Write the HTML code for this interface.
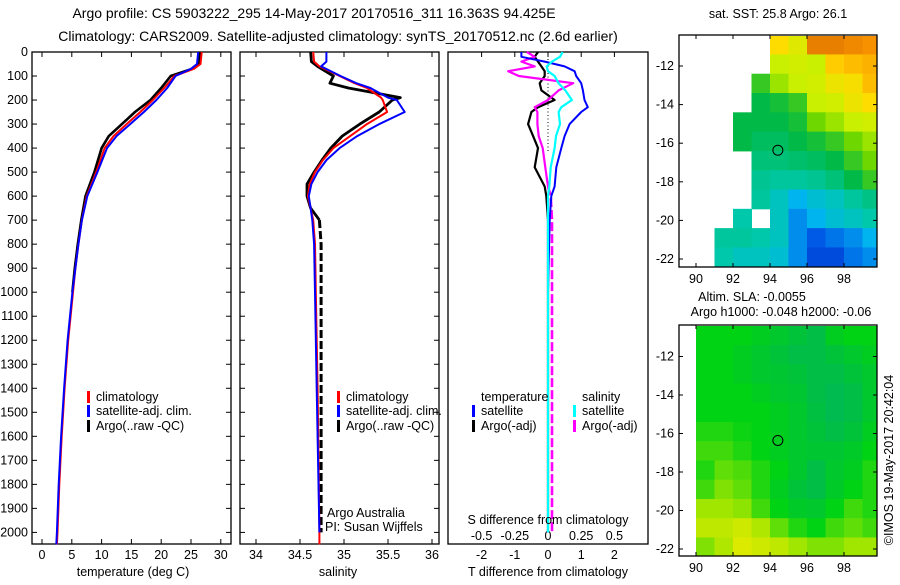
<!DOCTYPE html>
<html><head><meta charset="utf-8">
<style>
html,body{margin:0;padding:0;background:#fff;}
body{width:900px;height:580px;overflow:hidden;font-family:"Liberation Sans",sans-serif;}
svg text{font-family:"Liberation Sans",sans-serif;font-size:12.5px;fill:#000;}
svg text.title{font-size:14px;}
</style></head>
<body>
<svg id="fig" width="900" height="580" xmlns="http://www.w3.org/2000/svg">
<text class="title" x="314" y="18" text-anchor="middle">Argo profile: CS 5903222_295 14-May-2017 20170516_311 16.363S 94.425E</text>
<text class="title" x="338" y="41" text-anchor="middle">Climatology: CARS2009. Satellite-adjusted climatology: synTS_20170512.nc (2.6d earlier)</text>
</svg>
<script>
// ---------- data ----------
const depthT = [0,50,70,100,150,200,250,300,350,400,500,600,700,800,900,1000,1200,1400,1600,1800,2000,2050];
const tempClim = [26.8,26.6,25.5,22.2,20.5,18.6,16.5,14.2,12.0,10.5,9.1,7.5,6.7,6.1,5.6,5.2,4.4,3.8,3.3,2.9,2.6,2.5];
const tempSat = [26.2,26.0,25.0,22.4,21.0,19.2,17.1,14.8,12.5,10.9,9.3,7.6,6.7,6.1,5.6,5.1,4.3,3.7,3.2,2.8,2.5,2.4];
const tempArgo = [26.5,26.4,25.2,21.6,20.0,18.2,15.6,13.4,11.2,10.0,8.8,7.3,6.6,6.0,5.5,5.1];
const depthS = [0,40,60,100,130,150,190,200,250,300,350,400,450,500,550,600,650,700,800,1000,1400,2000,2050];
const salClim = [34.65,34.66,34.72,34.95,35.12,35.26,35.42,35.44,35.49,35.26,35.07,34.88,34.76,34.67,34.61,34.59,34.62,34.65,34.67,34.68,34.70,34.72,34.72];
const salSat = [34.8,34.8,34.74,34.96,35.14,35.3,35.5,35.6,35.69,35.4,35.15,34.95,34.8,34.7,34.63,34.6,34.62,34.64,34.66,34.67,34.69,34.72,34.72];
const salArgo = [34.62,34.63,34.7,34.88,34.84,35.05,35.64,35.55,35.4,35.18,34.98,34.85,34.75,34.66,34.58,34.58,34.62,34.72,34.74,34.74,34.74,34.74];
const depthD = [0,20,40,60,80,100,130,160,200,230,250,300,350,400,480,560,600,700,1000,1500,2000];
const tDiffSat = [-0.8,-0.8,-0.1,0.5,0.8,0.85,1.0,1.05,1.1,1.2,1.0,0.65,0.5,0.4,0.25,0.2,0.1,0.05,0.0,0.0,0.0];
const sDiffSat = [0.11,0.09,0.03,-0.01,0.0,0.05,0.08,0.13,0.18,0.1,0.08,0.09,0.06,0.05,0.02,0.01,0.0,0.0,0.0,0.0,0.0];
const tDiffArgo = [-0.3,-0.4,-0.3,-0.2,-0.1,-0.1,-0.25,-0.2,0.2,-0.3,-0.5,-0.6,-0.45,-0.3,-0.4,-0.1,-0.05,0.0,0.0,0.0,0.0];
const sDiffArgo = [-0.16,-0.1,-0.2,-0.1,-0.3,-0.22,0.19,0.08,0.0,-0.1,-0.08,-0.08,-0.07,-0.04,-0.02,0.0,0.02,0.03,0.03,0.03,0.03];
const tempTicks = [0,5,10,15,20,25,30];
const salTicks = [34,34.5,35,35.5,36];
const tDiffTicks = [-2,-1,0,1,2];
const sDiffTicks = [-0.5,-0.25,0,0.25,0.5];
const depthTicks = [0,100,200,300,400,500,600,700,800,900,1000,1100,1200,1300,1400,1500,1600,1700,1800,1900,2000];
const lonTicks = [90,92,94,96,98];
const latTicks = [-12,-14,-16,-18,-20,-22];
const sstLon0 = 89; const sstLat0 = -10.4;
const sstGrid = [
 [null,null,null,null,null,0.72,0.65,0.9,0.9,0.88,0.86],
 [null,null,null,null,null,0.6,0.62,0.6,0.75,0.78,0.8],
 [null,null,null,null,0.45,0.55,0.6,0.62,0.68,0.7,0.78],
 [null,null,null,null,0.4,0.42,0.45,0.6,0.62,0.68,0.72],
 [null,null,null,0.4,0.4,0.4,0.42,0.5,0.55,0.6,0.62],
 [null,null,null,0.4,0.38,0.38,0.4,0.42,0.45,0.5,0.55],
 [null,null,null,null,0.36,0.36,0.37,0.38,0.4,0.45,0.5],
 [null,null,null,null,0.34,0.33,0.33,0.34,0.36,0.4,0.45],
 [null,null,null,null,0.33,0.3,0.25,0.28,0.3,0.33,0.35],
 [null,null,null,0.32,null,0.3,0.22,0.25,0.28,0.3,0.32],
 [null,null,0.33,0.33,0.32,0.3,0.22,0.18,0.2,0.22,0.25],
 [null,null,0.32,0.3,0.3,0.28,0.22,0.15,0.15,0.2,0.22]
];
const slaLon0 = 90; const slaLat0 = -10.4;
const slaGrid = [
 [0.5,0.5,0.5,0.45,0.4,0.35,0.3,0.45,0.5,0.5],
 [0.5,0.5,0.45,0.4,0.35,0.3,0.3,0.35,0.4,0.45],
 [0.5,0.5,0.45,0.4,0.38,0.35,0.3,0.3,0.35,0.4],
 [0.5,0.5,0.5,0.45,0.4,0.38,0.3,0.25,0.3,0.4],
 [0.5,0.5,0.5,0.5,0.45,0.4,0.32,0.25,0.3,0.4],
 [0.55,0.55,0.52,0.5,0.45,0.4,0.35,0.3,0.35,0.45],
 [0.6,0.6,0.55,0.5,0.45,0.4,0.38,0.38,0.42,0.5],
 [0.55,0.65,0.62,0.55,0.5,0.4,0.3,0.4,0.45,0.55],
 [0.6,0.7,0.65,0.55,0.45,0.35,0.3,0.42,0.5,0.55],
 [0.75,0.75,0.72,0.6,0.5,0.42,0.4,0.5,0.6,0.55],
 [0.85,0.85,0.9,0.8,0.65,0.55,0.5,0.6,0.65,0.6],
 [0.7,0.8,0.95,0.9,0.85,0.75,0.7,0.7,0.75,0.75]
];
const argoLon = 94.425; const argoLat = -16.363;

// ---------- helpers ----------
const NS = 'http://www.w3.org/2000/svg';
const svg = document.getElementById('fig');
function mk(tag, attrs, parent){const e=document.createElementNS(NS,tag);for(const k in attrs)e.setAttribute(k,attrs[k]);(parent||svg).appendChild(e);return e;}
function txt(x,y,s,anchor,parent){const t=mk('text',{x:x,y:y,'text-anchor':anchor||'start'},parent);t.textContent=s;return t;}
const yD = d => 52 + 0.2402*d;
const xT = t => 42 + 5.96*t;
const xS = s => 256 + 88*(s-34);
const xTD = t => 548 + 33.2*t;
const xSD = s => 548 + 132.8*s;
function line(xs, ds, fx, color, w, name, dash){
  let p='';
  for(let i=0;i<xs.length;i++) p += (i?'L':'M') + fx(xs[i]).toFixed(1)+','+yD(ds[i]).toFixed(1);
  const e = mk('path',{d:p,fill:'none',stroke:color,'stroke-width':w,'stroke-linejoin':'round'});
  if(dash) e.setAttribute('stroke-dasharray',dash);
  
  
  return e;
}
function frame(x0,y0,x1,y1,name){
  const r = mk('rect',{x:x0,y:y0,width:x1-x0,height:y1-y0,fill:'none',stroke:'#000','stroke-width':1.3});
  
  
}
function legendMark(x,y,color){mk('rect',{x:x,y:y-10,width:3,height:12,fill:color});}

// ---------- panel 1: temperature ----------
frame(32,52,231,544,'temperature-panel-frame');
depthTicks.forEach(d=>{
  const t = txt(28,yD(d)+4,String(d),'end');
  
  
  mk('line',{x1:32,x2:37,y1:yD(d),y2:yD(d),stroke:'#000'});
  mk('line',{x1:231,x2:226,y1:yD(d),y2:yD(d),stroke:'#000'});
});
tempTicks.forEach(t=>{
  const e = txt(xT(t),559,String(t),'middle');
  
  
  mk('line',{x1:xT(t),x2:xT(t),y1:544,y2:539,stroke:'#000'});
  mk('line',{x1:xT(t),x2:xT(t),y1:52,y2:57,stroke:'#000'});
});
txt(133,576,'temperature (deg C)','middle');
line(tempArgo, depthT.slice(0,tempArgo.length), xT, '#000', 2.6, 'temperature-argo-line');
line(tempClim, depthT, xT, '#f00', 2, 'temperature-climatology-line');
line(tempSat, depthT, xT, '#00f', 2, 'temperature-satellite-line');
legendMark(87,401,'#f00'); txt(96,401,'climatology');
legendMark(87,415,'#00f'); txt(96,415,'satellite-adj. clim.');
legendMark(87,430,'#000'); txt(96,430,'Argo(..raw -QC)');

// ---------- panel 2: salinity ----------
frame(240,52,439,544,'salinity-panel-frame');
depthTicks.forEach(d=>{
  mk('line',{x1:240,x2:245,y1:yD(d),y2:yD(d),stroke:'#000'});
  mk('line',{x1:439,x2:434,y1:yD(d),y2:yD(d),stroke:'#000'});
});
salTicks.forEach(s=>{
  const e = txt(xS(s),559,String(s),'middle');
  
  
  mk('line',{x1:xS(s),x2:xS(s),y1:544,y2:539,stroke:'#000'});
  mk('line',{x1:xS(s),x2:xS(s),y1:52,y2:57,stroke:'#000'});
});
txt(338,576,'salinity','middle');
line(salArgo.slice(0,18), depthS.slice(0,18), xS, '#000', 2.8, 'salinity-argo-line');
line(salArgo.slice(17), depthS.slice(17,22), xS, '#000', 3, 'salinity-argo-deep-line','8,3');
line(salClim, depthS, xS, '#f00', 2, 'salinity-climatology-line');
line(salSat.slice(0,22), depthS.slice(0,22), xS, '#00f', 2, 'salinity-satellite-line');
legendMark(337,401,'#f00'); txt(346,401,'climatology');
legendMark(337,415,'#00f'); txt(346,415,'satellite-adj. clim.');
legendMark(337,430,'#000'); txt(346,430,'Argo(..raw -QC)');
txt(327,517,'Argo Australia');
txt(325,531,'PI: Susan Wijffels');

// ---------- panel 3: differences ----------
frame(448,52,648,544,'difference-panel-frame');
tDiffTicks.forEach(t=>{
  mk('line',{x1:xTD(t),x2:xTD(t),y1:52,y2:57,stroke:'#000'});
  const e = txt(xTD(t),559,String(t),'middle');
  
  
});
sDiffTicks.forEach(s=>{
  const e = txt(xSD(s),540,String(s),'middle');
  
  
});
mk('line',{x1:548,x2:548,y1:yD(0),y2:yD(420),stroke:'#000','stroke-dasharray':'1,2.5'});
line(tDiffArgo, depthD, xTD, '#000', 2.2, 't-difference-argo-line');
line(sDiffArgo.slice(0,16), depthD.slice(0,16), xSD, '#f0f', 2.2, 's-difference-argo-line');
line(sDiffArgo.slice(15), depthD.slice(15), xSD, '#f0f', 2.6, 's-difference-argo-deep-line','9,3');
line(tDiffSat, depthD, xTD, '#00f', 2, 't-difference-satellite-line');
line(sDiffSat, depthD, xSD, '#0ff', 2.2, 's-difference-satellite-line');
txt(481,401,'temperature'); txt(582,401,'salinity');
legendMark(472,415,'#00f'); txt(481,415,'satellite');
legendMark(472,430,'#000'); txt(481,430,'Argo(-adj)');
legendMark(573,415,'#0ff'); txt(582,415,'satellite');
legendMark(573,430,'#f0f'); txt(582,430,'Argo(-adj)');
txt(548,524,'S difference from climatology','middle');
txt(548,576,'T difference from climatology','middle');

// ---------- maps ----------
const mxLon = lon => 696 + 18.5*(lon-90);
const myLat1 = lat => 66 + 19.3*(-12-lat);
const myLat2 = lat => 356.5 + 19.25*(-12-lat);
function lerpC(stops, v){
  v=Math.max(0,Math.min(1,v));
  for(let i=1;i<stops.length;i++){
    if(v<=stops[i][0]){const a=stops[i-1],b=stops[i],f=(v-a[0])/(b[0]-a[0]);
      return 'rgb('+[1,2,3].map(k=>Math.round(a[k]+(b[k]-a[k])*f)).join(',')+')';}
  }
  const l=stops[stops.length-1];return 'rgb('+l[1]+','+l[2]+','+l[3]+')';
}
const sstStops=[[0,0,0,170],[0.18,0,90,230],[0.25,0,180,240],[0.32,0,200,170],[0.4,0,185,70],[0.5,110,215,0],[0.6,200,240,0],[0.72,255,220,0],[0.85,250,150,0],[1,200,80,0]];
const slaStops=[[0,0,175,130],[0.3,0,190,70],[0.5,0,210,20],[0.75,160,230,0],[1,235,235,0]];
function drawMap(grid, lon0, lat0, stops, fy, x0, y0, x1, y1, name){
  const g = mk('g',{});
  
  
  grid.forEach((row,r)=>row.forEach((v,c)=>{
    if(v===null) return;
    const xa=Math.max(x0,mxLon(lon0+c)), xb=Math.min(x1,mxLon(lon0+c+1));
    const ya=Math.max(y0,fy(lat0-r)), yb=Math.min(y1,fy(lat0-r-1));
    const cell = mk('rect',{x:xa,y:ya,width:xb-xa+0.5,height:yb-ya+0.5,fill:lerpC(stops,v)},g);
    
    
  }));
}
// SST map
drawMap(sstGrid, sstLon0, sstLat0, sstStops, myLat1, 680, 36, 876, 266, 'sst-map');
frame(679,35,877,267,'sst-map-frame');
mk('circle',{cx:mxLon(argoLon),cy:myLat1(argoLat),r:5,fill:'none',stroke:'#000'});
// SLA map
drawMap(slaGrid, slaLon0, slaLat0, slaStops, myLat2, 680, 326, 876, 555, 'sla-map');
frame(679,325,877,556,'sla-map-frame');
mk('circle',{cx:mxLon(argoLon),cy:myLat2(argoLat),r:5,fill:'none',stroke:'#000'});
[[myLat1,35,267],[myLat2,325,556]].forEach(([fy,yt,yb])=>{
  lonTicks.forEach(l=>{
    mk('line',{x1:mxLon(l),x2:mxLon(l),y1:yt,y2:yt+4,stroke:'#000'});
    mk('line',{x1:mxLon(l),x2:mxLon(l),y1:yb,y2:yb-4,stroke:'#000'});
    const e = txt(mxLon(l),yb+16,String(l),'middle');
    
    
  });
  latTicks.forEach(l=>{
    mk('line',{x1:679,x2:683,y1:fy(l),y2:fy(l),stroke:'#000'});
    mk('line',{x1:877,x2:873,y1:fy(l),y2:fy(l),stroke:'#000'});
    const e = txt(674,fy(l)+4,String(l),'end');
    
    
  });
});
txt(778,18,'sat. SST: 25.8  Argo: 26.1','middle');
txt(752,301,'Altim. SLA: -0.0055','middle');
txt(781,316,'Argo h1000: -0.048  h2000: -0.06','middle');
const cr = txt(0,0,'©IMOS 19-May-2017 20:42:04','middle');
cr.setAttribute('transform','translate(893,460) rotate(-90)');


</script>
</body></html>
